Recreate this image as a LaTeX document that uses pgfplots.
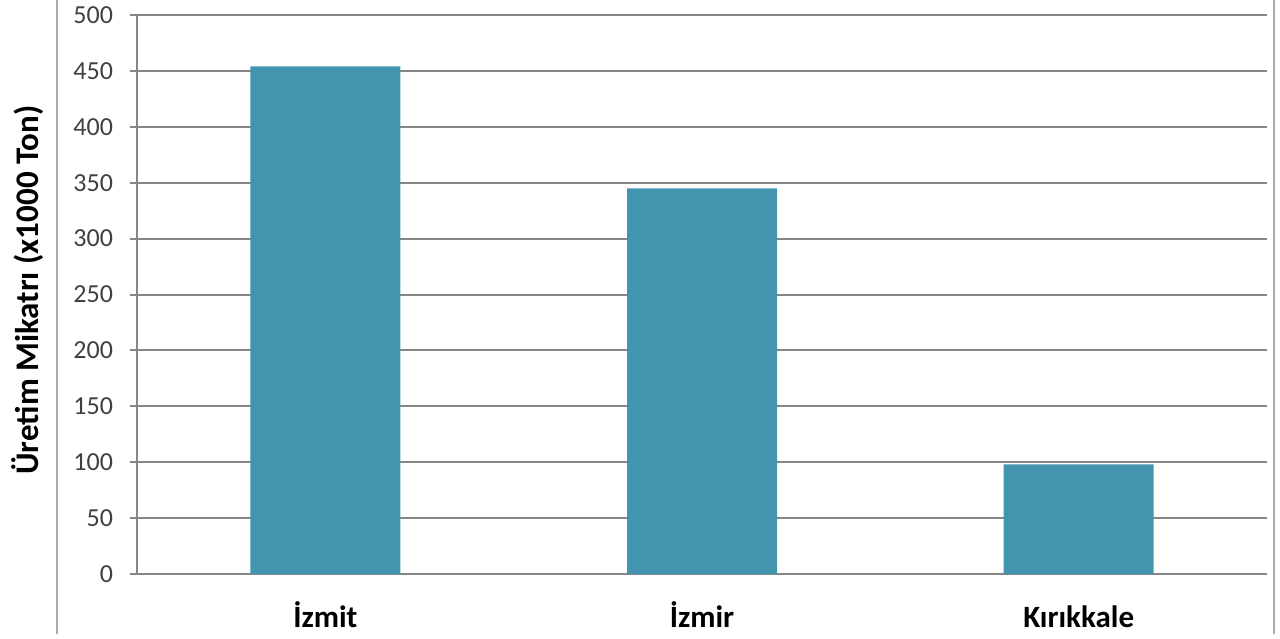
\documentclass[border=0pt]{standalone}
\usepackage{pgfplots}
\pgfplotsset{compat=1.18}
\usepackage{fontspec}
\setmainfont{Carlito}
\definecolor{barc}{RGB}{67,148,174}
\definecolor{gridc}{RGB}{134,134,134}
\definecolor{tickc}{RGB}{64,64,64}
\begin{document}
\begin{tikzpicture}[x=1pt,y=1pt]
\useasboundingbox (0,0) rectangle (640,319);
\draw[gridc!70, line width=1pt] (28.5,2) -- (28.5,319);
\draw[gridc!70, line width=1pt] (637,2) -- (637,319);
\begin{axis}[
  at={(68.5pt,32pt)}, anchor=south west,
  scale only axis, width=565pt, height=279.5pt,
  xmin=-0.5, xmax=2.5, ymin=0, ymax=500,
  ytick={0,50,...,500},
  xtick={0,1,2},
  xticklabels={İzmit,İzmir,Kırıkkale},
  axis x line*=bottom, axis y line*=left,
  axis line style={gridc, line width=1pt, -},
  ymajorgrids, grid style={gridc, line width=1pt},
  major tick length=3.5pt,
  tick style={gridc, line width=1pt},
  ytick pos=left, tick align=outside,
  xtick style={draw=none},
  /pgf/number format/assume math mode=true,
  yticklabel style={font=\fontsize{13}{15}\selectfont, text=tickc, xshift=-5pt},
  xticklabel style={font=\bfseries\fontsize{15.5}{17}\selectfont, text=black, anchor=base, yshift=-23pt},
  ylabel={Üretim Mikatrı (x1000 Ton)},
  ylabel style={font=\bfseries\fontsize{16.5}{18}\selectfont, at={(axis description cs:-0.0965,0.508)}, anchor=center},
  ybar, bar width=75pt,
]
\addplot[fill=barc, draw=none] coordinates {(0,454) (1,345) (2,98)};
\end{axis}
\end{tikzpicture}
\end{document}
